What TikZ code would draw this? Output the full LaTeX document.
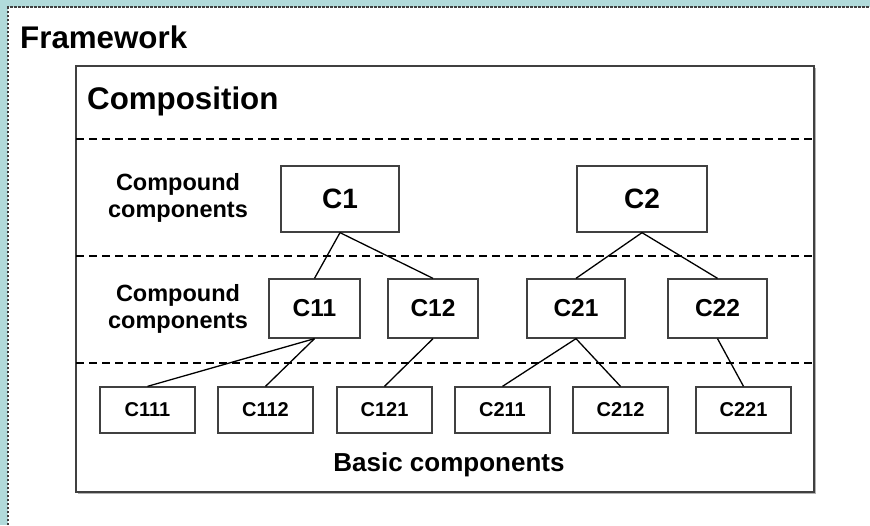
\documentclass[tikz,border=0pt]{standalone}
\usepackage{fontspec}
\setmainfont{Liberation Sans}
\definecolor{teal0}{HTML}{B1DBDB}
\definecolor{edge}{HTML}{404040}
\begin{document}
\begin{tikzpicture}[x=1pt,y=-1pt,
  comp/.style={draw=edge,line width=1.3pt,fill=white,inner sep=0pt,font=\bfseries},
  big/.style={comp,font=\fontsize{28}{31}\selectfont\bfseries},
  mid/.style={comp,minimum height=59pt,font=\fontsize{24.5}{27}\selectfont\bfseries},
  small/.style={comp,minimum width=95pt,minimum height=46pt,font=\fontsize{20}{23}\selectfont\bfseries},
  link/.style={line width=1.3pt,black},
  layer/.style={line width=1.3pt,dash pattern=on 8pt off 5pt},
  caption/.style={font=\fontsize{23.5}{27}\selectfont\bfseries,align=center,inner sep=0pt},
  title/.style={font=\fontsize{31.3}{35}\selectfont\bfseries,anchor=west,inner sep=0pt}]
\useasboundingbox (0,0) rectangle (870,525);
% backdrop and slide panel
\fill[teal0] (0,0) rectangle (870,525);
\fill[white] (8,7) rectangle (870,525);
\draw[edge,line width=1.2pt,dash pattern=on 2.5pt off 1.5pt] (8,525) -- (8,7) -- (870,7);

\node[title] (fw) at (20,37) {Framework};

% composition frame with a soft shadow
\fill[gray!60] (78,68) rectangle (816,494);
\draw[edge,line width=1.3pt,fill=white] (76,66) rectangle (814,492);
\node[title] (cp) at (87,101) {Composition};

% layer separators
\draw[layer] (76,139) -- (814,139);
\draw[layer] (76,256) -- (814,256);
\draw[layer] (76,363) -- (814,363);

% layer captions
\node[caption] (l1) at (178,198) {Compound\\components};
\node[caption] (l2) at (178,309) {Compound\\components};
\node[caption,font=\fontsize{26}{30}\selectfont\bfseries] (l3) at (449,465) {Basic components};

% compound components, top level
\node[big,minimum width=118pt,minimum height=66pt] (c1) at (340,199) {C1};
\node[big,minimum width=130pt,minimum height=66pt] (c2) at (642,199) {C2};

% compound components, second level
\node[mid,minimum width=91pt] (c11) at (314.5,308.5) {C11};
\node[mid,minimum width=90pt] (c12) at (433,308.5) {C12};
\node[mid,minimum width=98pt] (c21) at (576,308.5) {C21};
\node[mid,minimum width=99pt] (c22) at (717.5,308.5) {C22};

% basic components
\node[small] (c111) at (147.5,410) {C111};
\node[small] (c112) at (265.5,410) {C112};
\node[small] (c121) at (384.5,410) {C121};
\node[small] (c211) at (502.5,410) {C211};
\node[small] (c212) at (620.5,410) {C212};
\node[small] (c221) at (743.5,410) {C221};

% containment links
\draw[link] (c1.south) -- (c11.north);
\draw[link] (c1.south) -- (c12.north);
\draw[link] (c2.south) -- (c21.north);
\draw[link] (c2.south) -- (c22.north);
\draw[link] (c11.south) -- (c111.north);
\draw[link] (c11.south) -- (c112.north);
\draw[link] (c12.south) -- (c121.north);
\draw[link] (c21.south) -- (c211.north);
\draw[link] (c21.south) -- (c212.north);
\draw[link] (c22.south) -- (c221.north);
\end{tikzpicture}
\end{document}
